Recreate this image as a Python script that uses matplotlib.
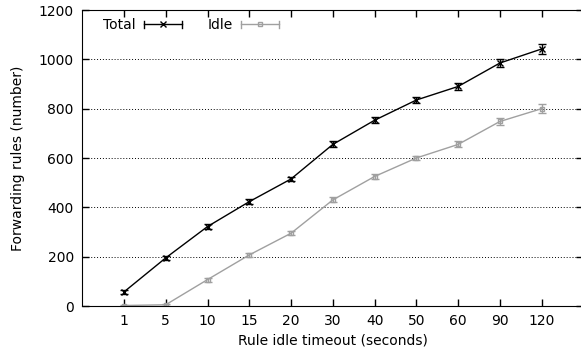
import matplotlib
matplotlib.use('Agg')
import matplotlib.pyplot as plt
from matplotlib.legend_handler import HandlerBase
from matplotlib.lines import Line2D
from matplotlib.container import ErrorbarContainer
import numpy as np

timeouts = ['1', '5', '10', '15', '20', '30', '40', '50', '60', '90', '120']
total = [57, 195, 322, 423, 515, 655, 753, 835, 890, 985, 1042]
total_err = [8, 8, 10, 10, 10, 12, 12, 12, 14, 16, 20]
idle = [2, 5, 107, 207, 295, 430, 525, 600, 655, 748, 800]
idle_err = [4, 5, 8, 8, 8, 10, 10, 10, 12, 16, 18]

plt.rcParams['font.family'] = 'DejaVu Sans'
plt.rcParams['font.size'] = 10


class HBarHandler(HandlerBase):
    # gnuplot style key: horizontal bar with end caps and the point in the middle
    def create_artists(self, legend, orig, xd, yd, w, h, fs, trans):
        line = orig.lines[0]
        c = line.get_color()
        y = yd + h / 2
        cap = h * 0.4
        arts = [Line2D([xd, xd + w], [y, y], color=c, lw=1),
                Line2D([xd, xd], [y - cap, y + cap], color=c, lw=1),
                Line2D([xd + w, xd + w], [y - cap, y + cap], color=c, lw=1),
                Line2D([xd + w / 2], [y], color=c, marker=line.get_marker(),
                       ms=line.get_markersize(), mfc=line.get_markerfacecolor(),
                       mew=1, ls='none')]
        for a in arts:
            a.set_transform(trans)
        return arts


fig = plt.figure(figsize=(5.81, 3.58), dpi=100)
ax = fig.add_axes([82.2 / 581, 52 / 358, 501.2 / 581, 296 / 358])

x = np.arange(1, len(timeouts) + 1)
gray = '#a0a0a0'
ax.errorbar(x, total, yerr=total_err, color='black', marker='x', ms=4, mew=1,
            lw=1, capsize=3, elinewidth=1, label='Total')
ax.errorbar(x, idle, yerr=idle_err, color=gray, marker='s', ms=3.5, mfc='none',
            mew=1, lw=1, capsize=3, elinewidth=1, label='Idle')

ax.set_xlim(0, 12)
ax.set_ylim(0, 1200)
ax.set_xticks(x)
ax.set_xticklabels(timeouts)
ax.set_yticks(range(0, 1201, 200))
ax.yaxis.grid(True, linestyle=(0, (1, 2)), color='black', lw=0.7)
ax.tick_params(direction='in', top=True, right=True, length=5, width=1, pad=6)
ax.set_xlabel('Rule idle timeout (seconds)', labelpad=4)
ax.set_ylabel('Forwarding rules (number)', labelpad=10)

ax.legend(loc='upper left', ncol=2, frameon=False, markerfirst=False,
          handlelength=2.7, handletextpad=0.6, columnspacing=1.9,
          borderaxespad=0.2, bbox_to_anchor=(0.025, 1.0),
          handler_map={ErrorbarContainer: HBarHandler()})

fig.savefig('out.png', dpi=100)
